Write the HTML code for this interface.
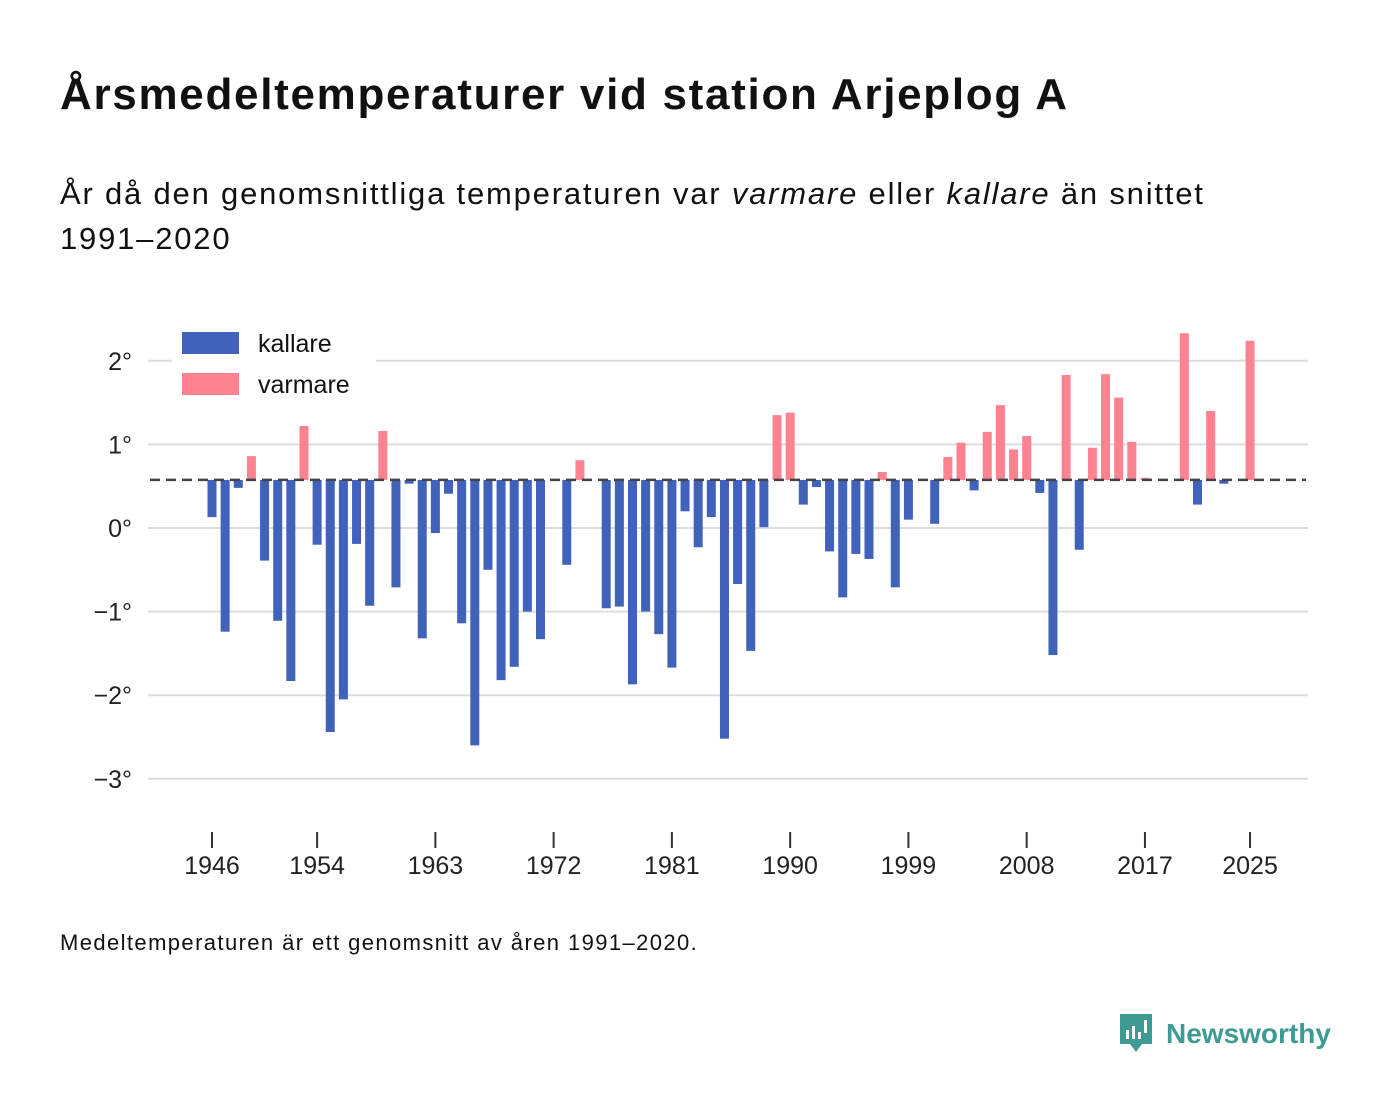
<!DOCTYPE html>
<html><head><meta charset="utf-8"><style>
body{margin:0;background:#fff;font-family:"Liberation Sans",sans-serif;color:#111;}
#wrap{position:relative;width:1400px;height:1116px;overflow:hidden;}
h1{position:absolute;left:60px;top:70px;margin:0;font-size:44px;font-weight:bold;letter-spacing:1.7px;white-space:nowrap;}
.sub{position:absolute;left:60px;top:171px;font-size:31px;line-height:45px;letter-spacing:1.8px;white-space:nowrap;}
.foot{position:absolute;left:60px;top:930px;font-size:22px;letter-spacing:1.4px;}
.logo{position:absolute;left:1118px;top:1012px;display:flex;align-items:center;color:#3d9b94;font-size:28px;font-weight:bold;}
</style></head><body><div id="wrap">
<h1>Årsmedeltemperaturer vid station Arjeplog A</h1>
<div class="sub">År då den genomsnittliga temperaturen var <i>varmare</i> eller <i>kallare</i> än snittet<br>1991–2020</div>
<svg id="chart" width="1400" height="1116" style="position:absolute;left:0;top:0"></svg>
<div class="foot">Medeltemperaturen är ett genomsnitt av åren 1991–2020.</div>
<div class="logo"><svg width="36" height="44" viewBox="0 0 36 44"><path d="M2 2h32v30H24l-6 8-6-8H2z" fill="#3d9b94"/><rect x="8" y="18" width="3" height="9" fill="#fff"/><rect x="14" y="14" width="3" height="13" fill="#fff"/><rect x="20" y="20" width="3" height="7" fill="#fff"/><rect x="26" y="8" width="3" height="13" fill="#fff"/></svg><span style="margin-left:12px">Newsworthy</span></div>
</div>
<script>
const years=[];for(let y=1946;y<=2025;y++)years.push(y);
const values=[0.13,-1.24,0.48,0.86,-0.39,-1.11,-1.83,1.22,-0.20,-2.44,-2.05,-0.19,-0.93,1.16,-0.71,0.53,-1.32,-0.06,0.41,-1.14,-2.60,-0.50,-1.82,-1.66,-1.00,-1.33,null,-0.44,0.81,null,-0.96,-0.94,-1.87,-1.00,-1.27,-1.67,0.20,-0.23,0.13,-2.52,-0.67,-1.47,0.01,1.35,1.38,0.28,0.49,-0.28,-0.83,-0.31,-0.37,0.67,-0.71,0.10,null,0.05,0.85,1.02,0.45,1.15,1.47,0.94,1.10,0.42,-1.52,1.83,-0.26,0.96,1.84,1.56,1.03,0.60,null,null,2.33,0.28,1.40,0.53,null,2.24];
const baseline=0.575;
const yTicks=[2,1,0,-1,-2,-3];
const yTickLabels=["2°","1°","0°","−1°","−2°","−3°"];
const xTicks=[1946,1954,1963,1972,1981,1990,1999,2008,2017,2025];
const NS="http://www.w3.org/2000/svg",svg=document.getElementById('chart');
const yS=v=>528-v*83.6, xS=yr=>212+(yr-1946)*13.14;
function mk(t,a){const e=document.createElementNS(NS,t);for(const k in a)e.setAttribute(k,a[k]);svg.appendChild(e);return e;}
yTicks.forEach((v,i)=>{const l=mk('line',{x1:148,x2:1308,y1:yS(v),y2:yS(v),stroke:'#ddd','stroke-width':2});


const t=mk('text',{x:132,y:yS(v)+9,'text-anchor':'end','font-size':25,fill:'#222','font-family':'Liberation Sans, sans-serif'});t.textContent=yTickLabels[i];

});
xTicks.forEach(yr=>{const l=mk('line',{x1:xS(yr),x2:xS(yr),y1:832,y2:848,stroke:'#333','stroke-width':2});


const t=mk('text',{x:xS(yr),y:874,'text-anchor':'middle','font-size':25,fill:'#222','font-family':'Liberation Sans, sans-serif'});t.textContent=yr;

});
years.forEach((yr,i)=>{const v=values[i];if(v===null)return;const warm=v>baseline;
const y1=yS(Math.max(v,baseline)),y2=yS(Math.min(v,baseline));
const r=mk('rect',{x:xS(yr)-4.5,y:y1,width:9,height:Math.max(1,y2-y1),fill:warm?'#ff8291':'#4062bb'});

});
const bl=mk('line',{x1:150,x2:1306,y1:yS(baseline),y2:yS(baseline),stroke:'#444','stroke-width':2.5,'stroke-dasharray':'10,6'});


const lb=mk('rect',{x:172,y:326,width:204,height:76,fill:'#fff'});


[['kallare','#4062bb',332],['varmare','#ff8291',373]].forEach(([n,c,y])=>{
const r=mk('rect',{x:182,y:y,width:57,height:22,fill:c});


const t=mk('text',{x:258,y:y+20,'font-size':25,fill:'#111','font-family':'Liberation Sans, sans-serif'});t.textContent=n;

});
</script></body></html>
